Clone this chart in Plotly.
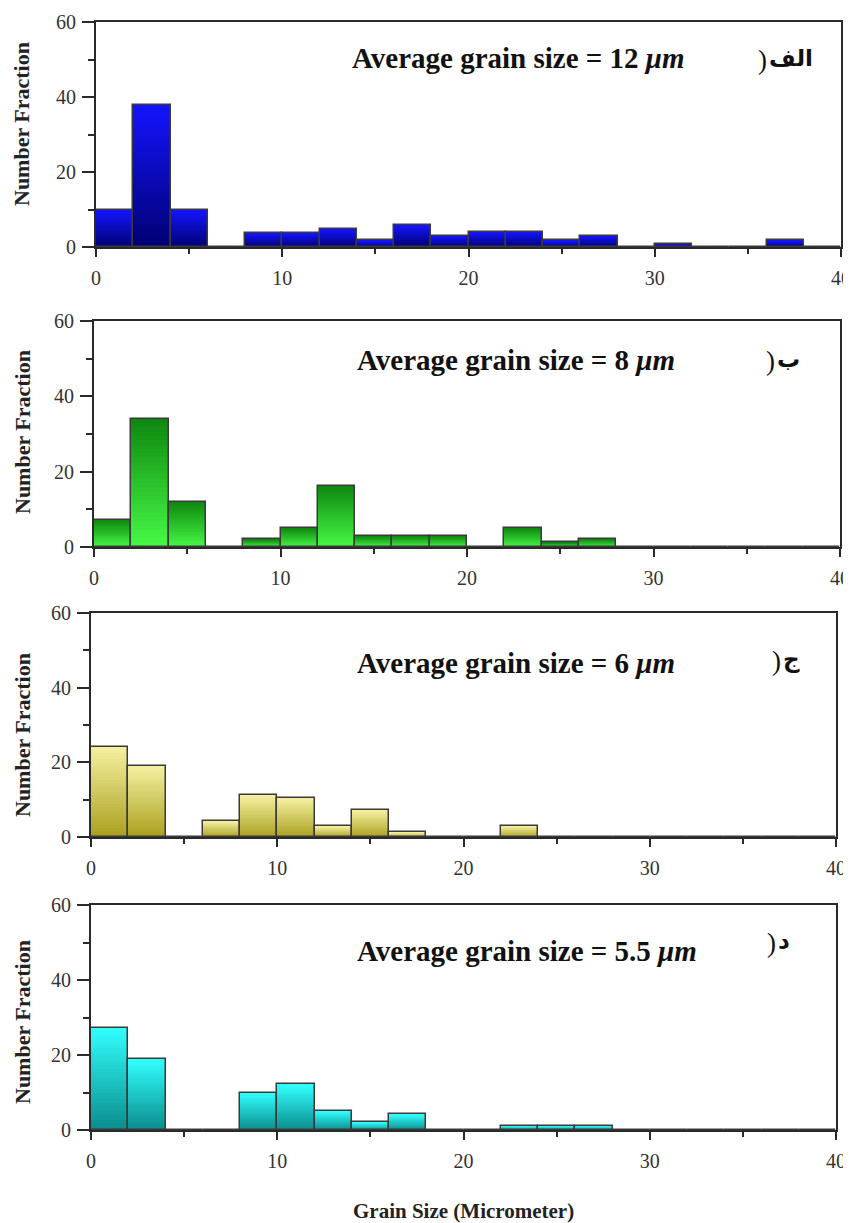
import plotly.graph_objects as go

# ---------------- data ----------------
bin_centers = [1, 3, 5, 7, 9, 11, 13, 15, 17, 19, 21, 23, 25, 27, 29, 31, 33, 35, 37, 39]

counts_a = [10, 38, 10, 0, 3.8, 3.8, 4.8, 1.8, 6, 3, 4, 4, 1.8, 3, 0, 0.9, 0, 0, 1.8, 0]
counts_b = [7.3, 34, 12, 0, 2, 5.1, 16.3, 3, 3, 3, 0, 5.1, 1.2, 2.1, 0, 0, 0, 0, 0, 0]
counts_c = [24.2, 19, 0, 4.3, 11.2, 10.4, 2.9, 7.3, 1.3, 0, 0, 3, 0, 0, 0, 0, 0, 0, 0, 0]
counts_d = [27.2, 18.9, 0, 0, 10, 12.2, 5.2, 2.1, 4.3, 0, 0, 1.2, 1.2, 1.2, 0, 0, 0, 0, 0, 0]

avg_labels = ["12", "8", "6", "5.5"]
panel_letters = ["الف", "ب", "ج", "د"]
x_ticks = [0, 10, 20, 30, 40]
y_ticks = [0, 20, 40, 60]

# ---------------- styling ----------------
OFF = 8  # page body margin
W, H = 851 - OFF, 1223 - OFF
def px(x):
    return (x - OFF) / W
def py(y):
    return 1 - (y - OFF) / H

panels = [
    dict(counts=counts_a, x=(96, 841), y=(22, 247), bottom=(0, 0, 115), top=(20, 20, 255),
         text_x=350, text_y=58, lab_x=756, lab_y=58, ytitle_y=124),
    dict(counts=counts_b, x=(94, 840), y=(321, 547), bottom=(70, 250, 70), top=(15, 135, 15),
         text_x=355, text_y=360, lab_x=764, lab_y=359, ytitle_y=432),
    dict(counts=counts_c, x=(91, 836), y=(613, 837), bottom=(170, 160, 30), top=(245, 240, 160),
         text_x=355, text_y=663, lab_x=770, lab_y=659, ytitle_y=735),
    dict(counts=counts_d, x=(91, 836), y=(905, 1130), bottom=(10, 140, 140), top=(50, 255, 255),
         text_x=355, text_y=951, lab_x=765, lab_y=941, ytitle_y=1022),
]

N_SEG = 30
SERIF = "Liberation Serif, Times New Roman, serif"
ARABIC = "DejaVu Sans, Noto Sans, sans-serif"
fig = go.Figure()
annotations = []
layout_axes = {}

for i, p in enumerate(panels):
    n = i + 1
    xa = "x" if n == 1 else f"x{n}"
    ya = "y" if n == 1 else f"y{n}"
    vals = p["counts"]
    # gradient fill: stacked slices of each bar
    for k in range(N_SEG):
        f = (k + 0.5) / N_SEG
        c = tuple(round(p["bottom"][j] + (p["top"][j] - p["bottom"][j]) * f) for j in range(3))
        fig.add_trace(go.Bar(
            x=bin_centers, y=[v / N_SEG for v in vals], base=[v * k / N_SEG for v in vals],
            width=2, marker=dict(color=f"rgb{c}", line=dict(width=0)),
            xaxis=xa, yaxis=ya, showlegend=False, hoverinfo="skip"))
    # outline
    fig.add_trace(go.Bar(
        x=bin_centers, y=vals, width=2,
        marker=dict(color="rgba(0,0,0,0)", line=dict(color="#3a3a3a", width=1.5)),
        xaxis=xa, yaxis=ya, showlegend=False))

    axis_common = dict(showline=True, linecolor="#2a2a2a", linewidth=2, mirror=True,
                       ticks="outside", tickcolor="#2a2a2a", tickwidth=1.5,
                       showgrid=False, zeroline=False, automargin=False,
                       tickfont=dict(family=SERIF, size=20, color="#333"))
    layout_axes["xaxis" if n == 1 else f"xaxis{n}"] = dict(
        axis_common, domain=[px(p["x"][0]), px(p["x"][1])], range=[0, 40],
        tickvals=x_ticks, ticklen=8, ticklabelstandoff=4,
        minor=dict(dtick=5, ticks="outside", ticklen=5, tickcolor="#2a2a2a", tickwidth=1.5),
        anchor=ya)
    layout_axes["yaxis" if n == 1 else f"yaxis{n}"] = dict(
        axis_common, domain=[py(p["y"][1]), py(p["y"][0])], range=[0, 60],
        tickvals=y_ticks, ticklen=12, ticklabelstandoff=2,
        minor=dict(dtick=10, ticks="outside", ticklen=6, tickcolor="#2a2a2a", tickwidth=1.5),
        anchor=xa)

    annotations.append(dict(
        text=f"<b>Average grain size = {avg_labels[i]} <i>μm</i></b>",
        x=px(p["text_x"]), y=py(p["text_y"]), xref="paper", yref="paper",
        xanchor="left", yanchor="middle", showarrow=False,
        font=dict(family=SERIF, size=29, color="#111")))
    # panel label: closing parenthesis drawn on the left, letter on the right
    annotations.append(dict(
        text=")", x=px(p["lab_x"]), y=py(p["lab_y"] + 2), xref="paper", yref="paper",
        xanchor="left", yanchor="middle", showarrow=False,
        font=dict(family=SERIF, size=27, color="#111")))
    annotations.append(dict(
        text=f"<b>{panel_letters[i]}</b>",
        x=px(p["lab_x"] + 11), y=py(p["lab_y"]), xref="paper", yref="paper",
        xanchor="left", yanchor="middle", showarrow=False,
        font=dict(family=ARABIC, size=23, color="#111")))
    annotations.append(dict(
        text="<b>Number Fraction</b>", textangle=-90,
        x=px(22), y=py(p["ytitle_y"]), xref="paper", yref="paper",
        xanchor="center", yanchor="middle", showarrow=False,
        font=dict(family=SERIF, size=22, color="#222")))

annotations.append(dict(
    text="<b>Grain Size (Micrometer)</b>",
    x=px(463), y=py(1211), xref="paper", yref="paper",
    xanchor="center", yanchor="middle", showarrow=False,
    font=dict(family=SERIF, size=21, color="#222")))

fig.update_layout(
    width=W, height=H, margin=dict(l=0, r=0, t=0, b=0, autoexpand=False),
    paper_bgcolor="white", plot_bgcolor="white",
    barmode="overlay", bargap=0,
    annotations=annotations, **layout_axes)

fig.write_html("out.html")
